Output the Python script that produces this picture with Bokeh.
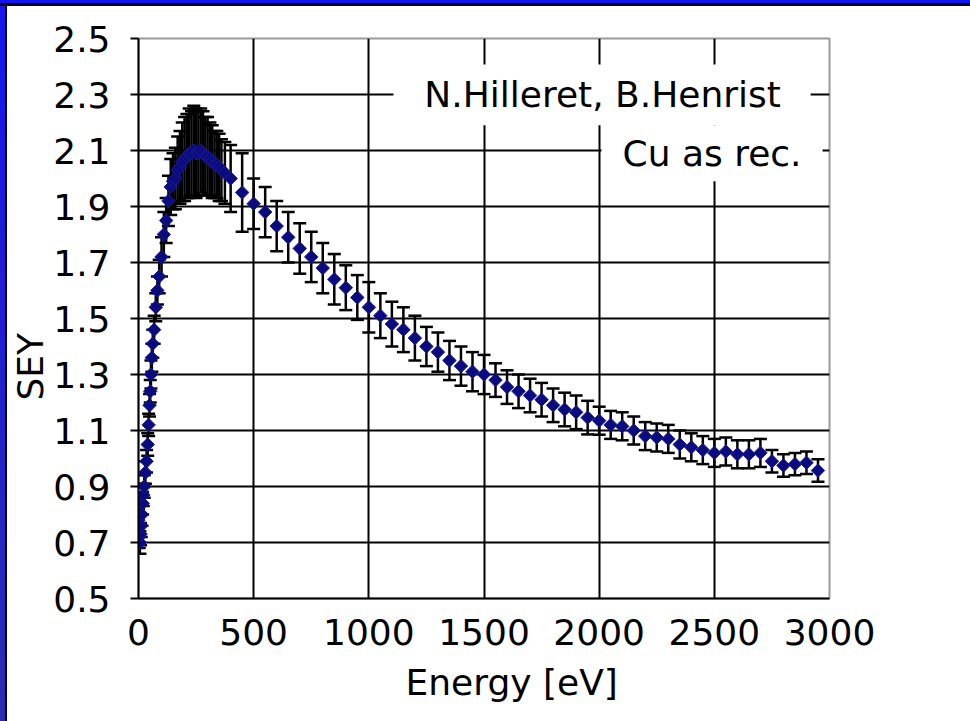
from bokeh.plotting import figure
from bokeh.models import (ColumnDataSource, FixedTicker, PrintfTickFormatter,
                          BoxAnnotation, Label, Title)
from bokeh.embed import file_html
from bokeh.resources import INLINE
import math

# ---- data ----
energy_ev = [0, 3, 6, 9, 12, 15, 18, 21, 25, 30, 35, 40, 44, 48, 51, 54, 58, 62, 68, 75,
             82, 90, 100, 110, 120, 130, 140, 150, 160, 170, 180, 190, 200, 210, 220, 230,
             240, 250, 260, 270, 280, 290, 300, 310, 320, 330, 340, 350, 360, 375, 400,
             450, 500, 550, 600, 650, 700, 750, 800, 850, 900, 950, 1000, 1050, 1100, 1150,
             1200, 1250, 1300, 1350, 1400, 1450, 1500, 1550, 1600, 1650, 1700, 1750, 1800,
             1850, 1900, 1950, 2000, 2050, 2100, 2150, 2200, 2250, 2300, 2350, 2400, 2450,
             2500, 2550, 2600, 2650, 2700, 2750, 2800, 2850, 2900, 2950]
sey = [0.78, 0.72, 0.70, 0.73, 0.76, 0.80, 0.84, 0.87, 0.90, 0.95, 0.99, 1.05, 1.12, 1.19,
       1.24, 1.30, 1.36, 1.41, 1.46, 1.54, 1.60, 1.65, 1.72, 1.80, 1.85, 1.92, 1.97, 1.99,
       2.00, 2.03, 2.04, 2.06, 2.07, 2.08, 2.09, 2.09, 2.10, 2.09, 2.09, 2.10, 2.09, 2.08,
       2.08, 2.07, 2.06, 2.05, 2.05, 2.04, 2.03, 2.02, 2.00,
       1.95, 1.91, 1.88, 1.83, 1.79, 1.75, 1.72, 1.68, 1.64, 1.61, 1.575, 1.54, 1.51, 1.48,
       1.46, 1.43, 1.40, 1.38, 1.35, 1.33, 1.31, 1.30, 1.28, 1.255, 1.24, 1.225, 1.21, 1.19,
       1.175, 1.165, 1.146, 1.135, 1.12, 1.115, 1.10, 1.08, 1.075, 1.07, 1.05, 1.04, 1.03,
       1.02, 1.025, 1.015, 1.015, 1.02, 0.99, 0.975, 0.98, 0.985, 0.957]
sey_err = [0.04, 0.04, 0.04, 0.04, 0.04, 0.04, 0.04, 0.04, 0.04, 0.04, 0.04, 0.04, 0.04, 0.04,
           0.04, 0.05, 0.05, 0.05, 0.05, 0.05, 0.05, 0.06, 0.07, 0.08, 0.08, 0.09, 0.10, 0.10,
           0.11, 0.12, 0.13, 0.14, 0.15, 0.15, 0.16, 0.15, 0.16, 0.16, 0.15, 0.15, 0.15, 0.14,
           0.14, 0.13, 0.13, 0.12, 0.12, 0.12, 0.11, 0.11, 0.12,
           0.14, 0.09, 0.09, 0.09, 0.09, 0.09, 0.09, 0.09, 0.09, 0.08, 0.08, 0.09, 0.08, 0.08,
           0.08, 0.08, 0.07, 0.07, 0.07, 0.07, 0.07, 0.07, 0.06, 0.06, 0.06, 0.06, 0.06, 0.06,
           0.06, 0.06, 0.06, 0.05, 0.05, 0.05, 0.05, 0.05, 0.05, 0.05, 0.05, 0.05, 0.05,
           0.05, 0.05, 0.05, 0.05, 0.05, 0.04, 0.04, 0.04, 0.04, 0.04]

x_ticks = [0, 500, 1000, 1500, 2000, 2500, 3000]
y_ticks = [0.5, 0.7, 0.9, 1.1, 1.3, 1.5, 1.7, 1.9, 2.1, 2.3, 2.5]
x_title = "Energy [eV]"
y_title = "SEY"
note_1 = "N.Hilleret, B.Henrist"
note_2 = "Cu as rec."

FONT = "DejaVu Sans"
W, H = 970, 721
FL, FR, FT, FB = 138, 829, 38, 598   # frame edges in page pixels

upper = [v + e for v, e in zip(sey, sey_err)]
lower = [v - e for v, e in zip(sey, sey_err)]
src = ColumnDataSource(dict(x=energy_ev, y=sey, upper=upper, lower=lower))

p = figure(width=W, height=H, x_range=(0, 3000), y_range=(0.5, 2.5),
           output_backend="svg", toolbar_location=None,
           min_border_left=FL, min_border_right=W - FR, min_border_top=FT,
           min_border_bottom=H - FB)
p.background_fill_color = "white"
p.border_fill_alpha = 0
p.styles = {
    "background": ("linear-gradient(#1313ef,#1313ef) 0 0/100% 3px no-repeat, "
                   "linear-gradient(#050520,#050520) 0 3px/100% 3px no-repeat, "
                   "linear-gradient(to bottom,#1616ee,#2c2cb2) 0 0/5px 100% no-repeat, "
                   "linear-gradient(#050520,#050520) 5px 0/2px 100% no-repeat, #ffffff"),
}
p.outline_line_color = "#9a9a9a"
p.outline_line_width = 2

# axes
p.xaxis.ticker = FixedTicker(ticks=x_ticks)
p.yaxis.ticker = FixedTicker(ticks=y_ticks)
p.yaxis.formatter = PrintfTickFormatter(format="%.1f")
for ax in (p.xaxis[0], p.yaxis[0]):
    ax.axis_line_color = "black"
    ax.axis_line_width = 2
    ax.major_tick_line_color = "black"
    ax.major_tick_line_width = 2
    ax.minor_tick_line_color = None
    ax.major_label_text_font = FONT
    ax.major_label_text_font_size = "36px"
    ax.major_label_text_color = "black"
p.xaxis.major_tick_out = 0
p.xaxis.major_tick_in = 0
p.xaxis.major_label_standoff = 20
p.yaxis.major_tick_out = 8
p.yaxis.major_tick_in = 0
p.yaxis.major_label_standoff = 20

# grid
p.xgrid.ticker = FixedTicker(ticks=[500, 1000, 1500, 2000, 2500])
p.ygrid.ticker = FixedTicker(ticks=[0.7, 0.9, 1.1, 1.3, 1.5, 1.7, 1.9, 2.1, 2.3])
p.grid.grid_line_color = "black"
p.grid.grid_line_width = 2

# white boxes behind the notes
p.add_layout(BoxAnnotation(left=1107, right=2918, top=2.407, bottom=2.19,
                           fill_color="white", fill_alpha=1, line_alpha=0))
p.add_layout(BoxAnnotation(left=2010, right=2970, top=2.19, bottom=1.99,
                           fill_color="white", fill_alpha=1, line_alpha=0))

# error bars: vertical stems and caps
p.segment(x0="x", y0="lower", x1="x", y1="upper", source=src,
          line_color="black", line_width=2.5)
p.scatter("x", "upper", source=src, marker="dash", size=13,
          line_color="black", line_width=2.5)
p.scatter("x", "lower", source=src, marker="dash", size=13,
          line_color="black", line_width=2.5)

# markers
p.scatter("x", "y", source=src, marker="square", angle=math.pi / 4, size=9.5,
          fill_color="#0b0b80", line_color="#1a1a8c", line_width=1)

# notes
p.add_layout(Label(x=2015, y=2.3, text=note_1, text_align="center", text_baseline="middle",
                   text_font=FONT, text_font_size="36px", text_color="black"))
p.add_layout(Label(x=2490, y=2.09, text=note_2, text_align="center", text_baseline="middle",
                   text_font=FONT, text_font_size="36px", text_color="black"))

# axis titles as side-panel titles
p.add_layout(Title(text=x_title, align="left", offset=267, standoff=24,
                   text_font=FONT, text_font_size="36px", text_font_style="normal",
                   text_color="black"), "below")
p.add_layout(Title(text=y_title, align="left", offset=198, standoff=0,
                   text_font=FONT, text_font_size="36px", text_font_style="normal",
                   text_color="black"), "left")

open("out.html", "w").write(file_html(p, INLINE))
